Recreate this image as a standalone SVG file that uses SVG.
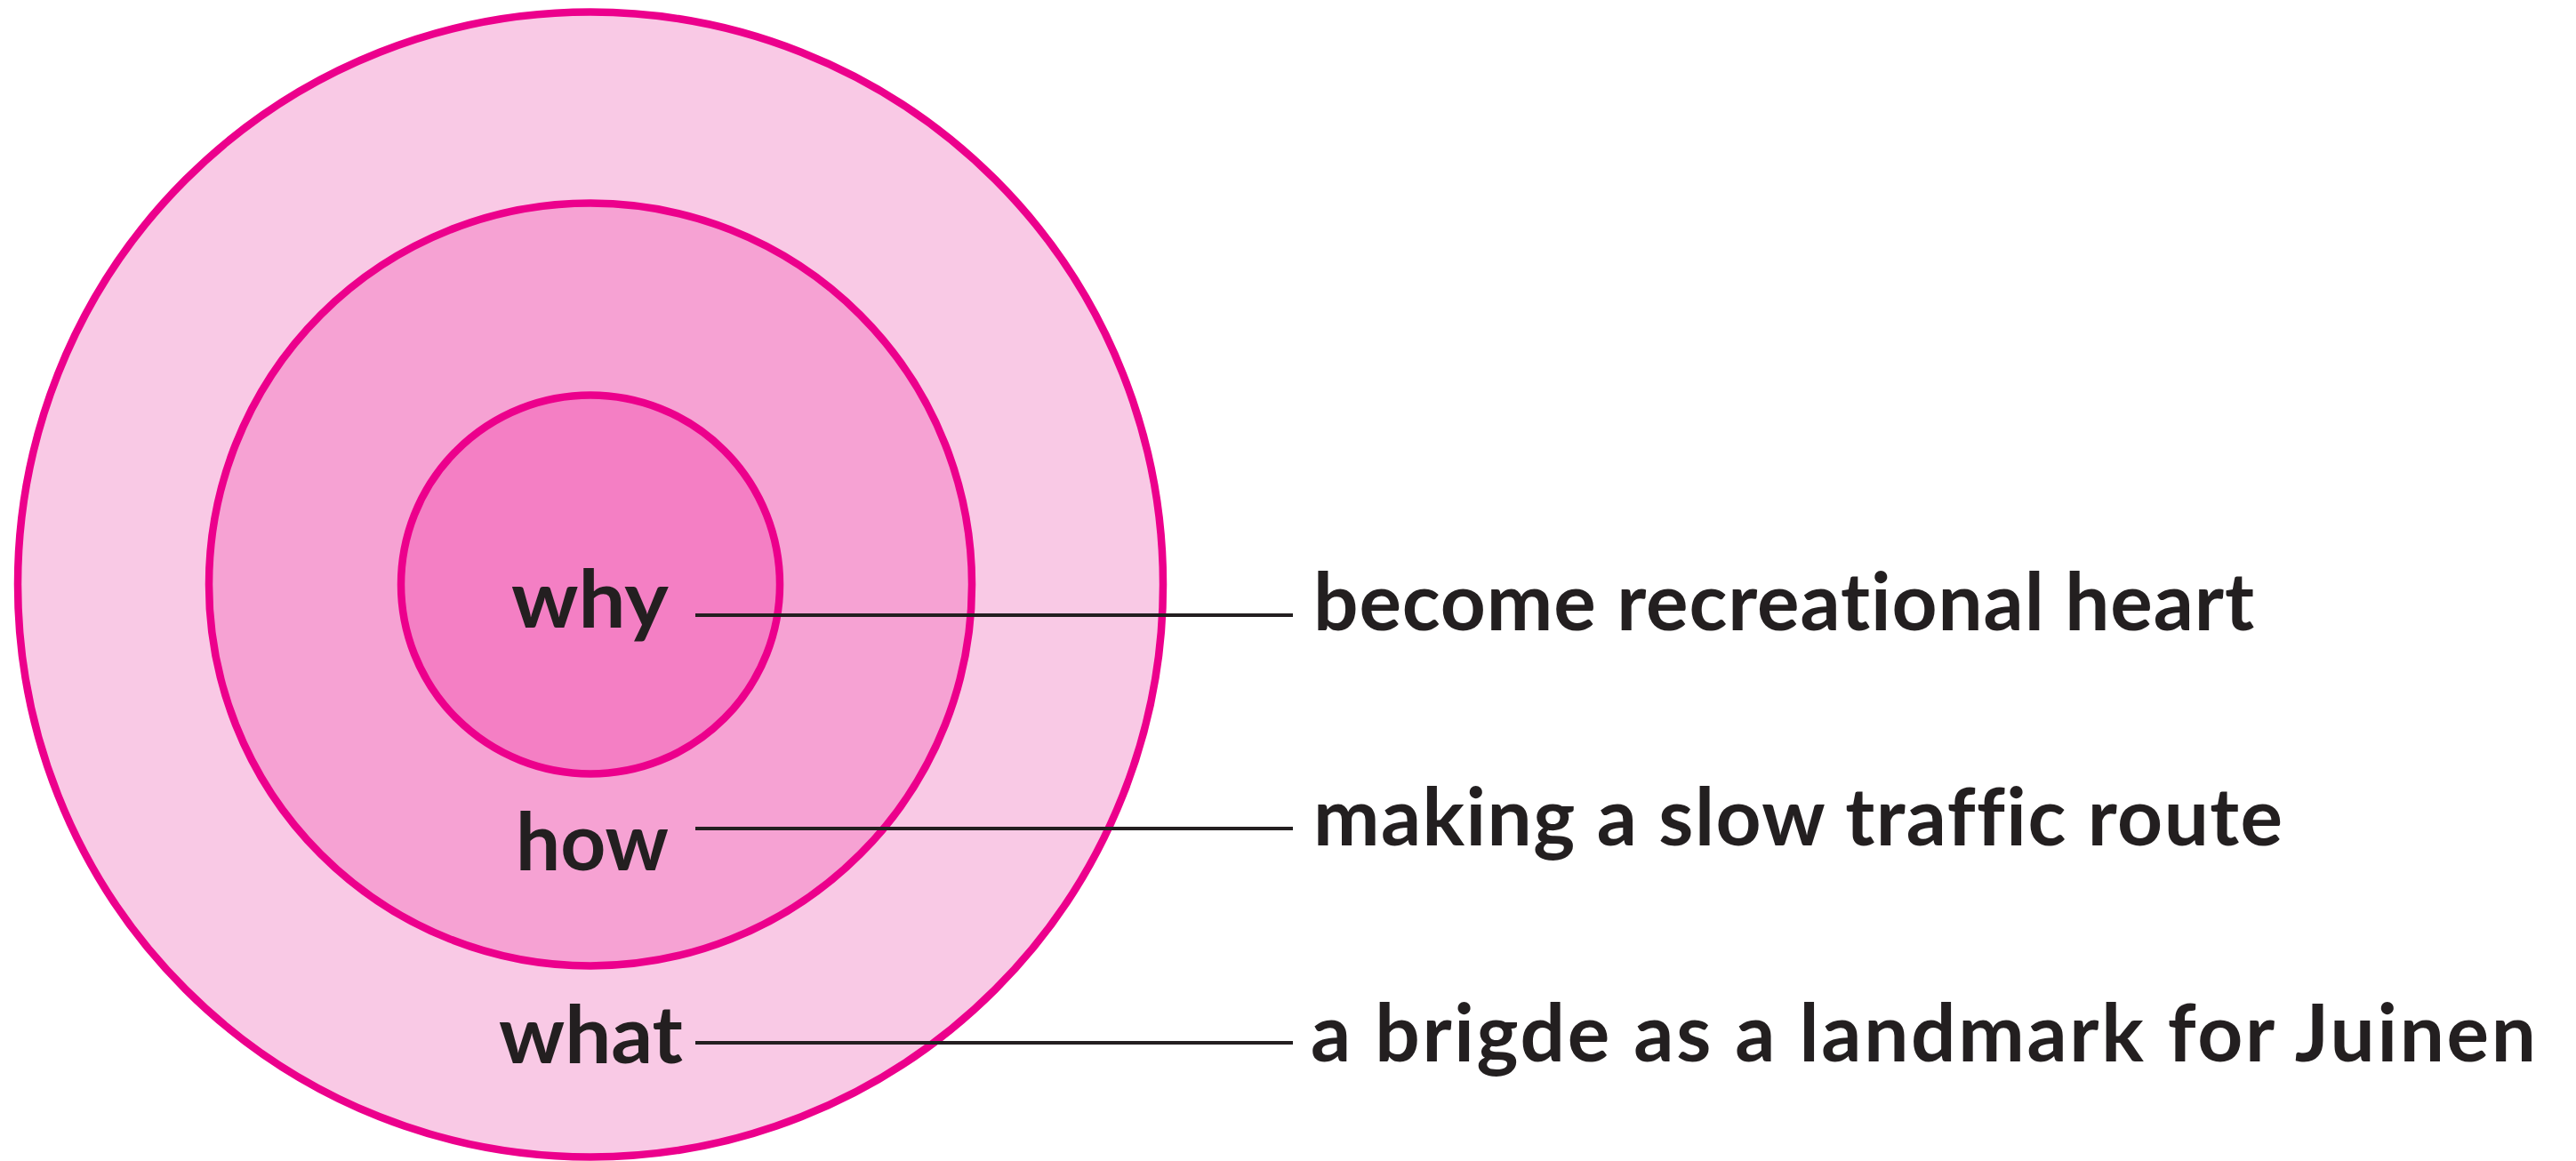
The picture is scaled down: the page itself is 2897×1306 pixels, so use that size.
<svg xmlns="http://www.w3.org/2000/svg" width="2897" height="1306" viewBox="0 0 2897 1306">
<style>
.ring{stroke:#ec008c;stroke-width:8.5}
.lbl{font-family:Lato,"Liberation Sans",sans-serif;font-weight:700;font-size:89px;fill:#231f20;font-variant-ligatures:none;font-feature-settings:"liga" 0,"clig" 0,"dlig" 0}
.conn{stroke:#231f20;stroke-width:4;fill:none}
</style>
<rect width="2897" height="1306" fill="#ffffff"/>
<g id="what">
<circle class="ring" cx="664" cy="657.5" r="644" fill="#f9c9e5"/>
</g>
<g id="how">
<circle class="ring" cx="664" cy="657.5" r="429" fill="#f6a2d3"/>
</g>
<g id="why">
<circle class="ring" cx="664" cy="657.5" r="213" fill="#f47fc4"/>
</g>
<g id="labels">
<text class="lbl" x="575" y="706" textLength="177" lengthAdjust="spacingAndGlyphs">why</text>
<text class="lbl" x="580" y="979" textLength="172" lengthAdjust="spacingAndGlyphs">how</text>
<text class="lbl" x="561" y="1196" textLength="207" lengthAdjust="spacingAndGlyphs">what</text>
</g>
<g id="connectors">
<line class="conn" x1="782" y1="692" x2="1454" y2="692"/>
<line class="conn" x1="782" y1="932" x2="1454" y2="932"/>
<line class="conn" x1="782" y1="1173" x2="1454" y2="1173"/>
</g>
<g id="statement-why">
<text class="lbl" x="1477" y="709" textLength="1058" lengthAdjust="spacing">become recreational heart</text>
</g>
<g id="statement-how">
<text class="lbl" x="1477" y="951" textLength="1090" lengthAdjust="spacing">making a slow traffic route</text>
</g>
<g id="statement-what">
<text class="lbl" x="1474" y="1194" textLength="1378" lengthAdjust="spacing">a brigde as a landmark for Juinen</text>
</g>
</svg>
